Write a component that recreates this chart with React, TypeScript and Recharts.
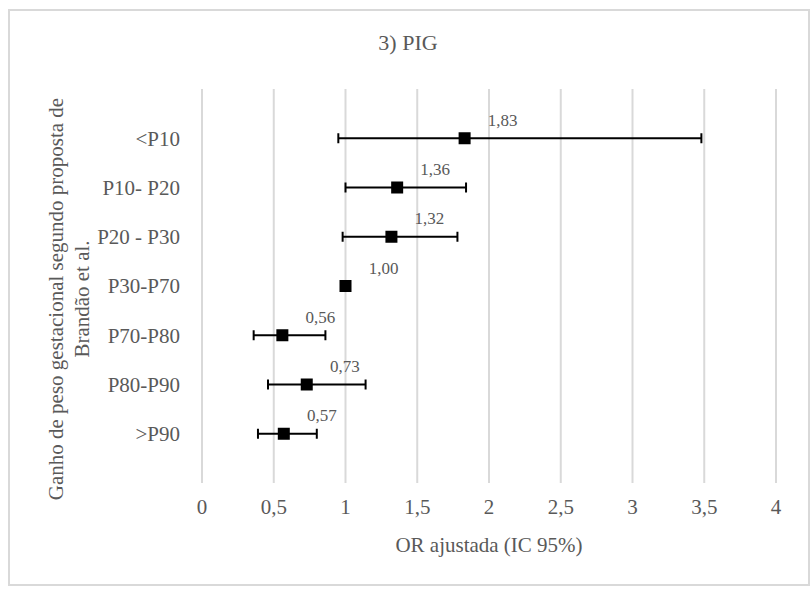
import { ScatterChart, Scatter, XAxis, YAxis, CartesianGrid, ErrorBar, Label } from 'recharts';

const categories = ['<P10', 'P10- P20', 'P20 - P30', 'P30-P70', 'P70-P80', 'P80-P90', '>P90'];
const orValues = [1.83, 1.36, 1.32, 1.0, 0.56, 0.73, 0.57];
const ciLower = [0.95, 1.0, 0.98, 1.0, 0.36, 0.46, 0.39];
const ciUpper = [3.48, 1.84, 1.78, 1.0, 0.86, 1.14, 0.8];
const xTicks = [0, 0.5, 1, 1.5, 2, 2.5, 3, 3.5, 4];
const yTicks = [1, 2, 3, 4, 5, 6, 7];

const FONT = '"Liberation Serif", "Times New Roman", serif';
const TEXT = '#595959';

// top row sits at the highest position
const data = categories.map((name, i) => ({
    name,
    pos: categories.length - i,
    or: orValues[i],
    err: [orValues[i] - ciLower[i], ciUpper[i] - orValues[i]],
}));

const fmt = (v: number) => String(v).replace('.', ',');

const MarkerWithLabel = (props: any) => {
    const { cx, cy, payload } = props;
    return (
        <g>
            <rect x={cx - 6} y={cy - 6} width={12} height={12} fill="#000" />
            <text
                x={cx + 38}
                y={cy - 18}
                textAnchor="middle"
                dominantBaseline="central"
                fontSize={17}
                fontFamily={FONT}
                fill={TEXT}
            >
                {payload.or.toFixed(2).replace('.', ',')}
            </text>
        </g>
    );
};

const YTitle = (props: any) => {
    const cy = 299;
    return (
        <g fontFamily={FONT} fontSize={21} fill={TEXT}>
            <text x={56} y={cy} transform={`rotate(-90, 56, ${cy})`} textAnchor="middle" dominantBaseline="central">
                Ganho de peso gestacional segundo proposta de
            </text>
            <text x={82} y={cy} transform={`rotate(-90, 82, ${cy})`} textAnchor="middle" dominantBaseline="central">
                Brandão et al.
            </text>
        </g>
    );
};

export default function App() {
    return (
        <div style={{ position: 'absolute', left: 0, top: 0, width: 810, height: 592, background: '#fff' }}>
            <div
                style={{
                    position: 'absolute',
                    left: 8,
                    top: 9,
                    width: 798,
                    height: 573,
                    border: '2px solid #d9d9d9',
                }}
            />
            <div
                style={{
                    position: 'absolute',
                    left: 0,
                    top: 30,
                    width: 816,
                    textAlign: 'center',
                    fontFamily: FONT,
                    fontSize: 22,
                    color: TEXT,
                }}
            >
                3) PIG
            </div>
            <div style={{ position: 'absolute', left: 0, top: 0 }}>
                <ScatterChart width={810} height={592} margin={{ top: 89, right: 34, bottom: 49, left: 82 }}>
                    <CartesianGrid horizontal={false} stroke="#d9d9d9" strokeWidth={2} />
                    <XAxis
                        type="number"
                        dataKey="or"
                        domain={[0, 4]}
                        ticks={xTicks}
                        interval={0}
                        tickFormatter={fmt}
                        axisLine={false}
                        tickLine={false}
                        tickSize={0}
                        tickMargin={16}
                        height={60}
                        tick={{ fontSize: 21, fill: TEXT, fontFamily: FONT }}
                    >
                        <Label
                            value="OR ajustada (IC 95%)"
                            position="insideBottom"
                            offset={-9}
                            style={{ fontSize: 21, fill: TEXT, fontFamily: FONT }}
                        />
                    </XAxis>
                    <YAxis
                        type="number"
                        dataKey="pos"
                        domain={[0, 8]}
                        ticks={yTicks}
                        interval={0}
                        tickFormatter={(v: number) => categories[categories.length - v]}
                        axisLine={false}
                        tickLine={false}
                        tickSize={0}
                        tickMargin={22}
                        width={120}
                        tick={{ fontSize: 21, fill: TEXT, fontFamily: FONT }}
                    >
                        <Label content={<YTitle />} />
                    </YAxis>
                    <Scatter data={data} shape={<MarkerWithLabel />} isAnimationActive={false}>
                        <ErrorBar dataKey="err" direction="x" width={5} stroke="#000" strokeWidth={2} />
                    </Scatter>
                </ScatterChart>
            </div>
        </div>
    );
}
